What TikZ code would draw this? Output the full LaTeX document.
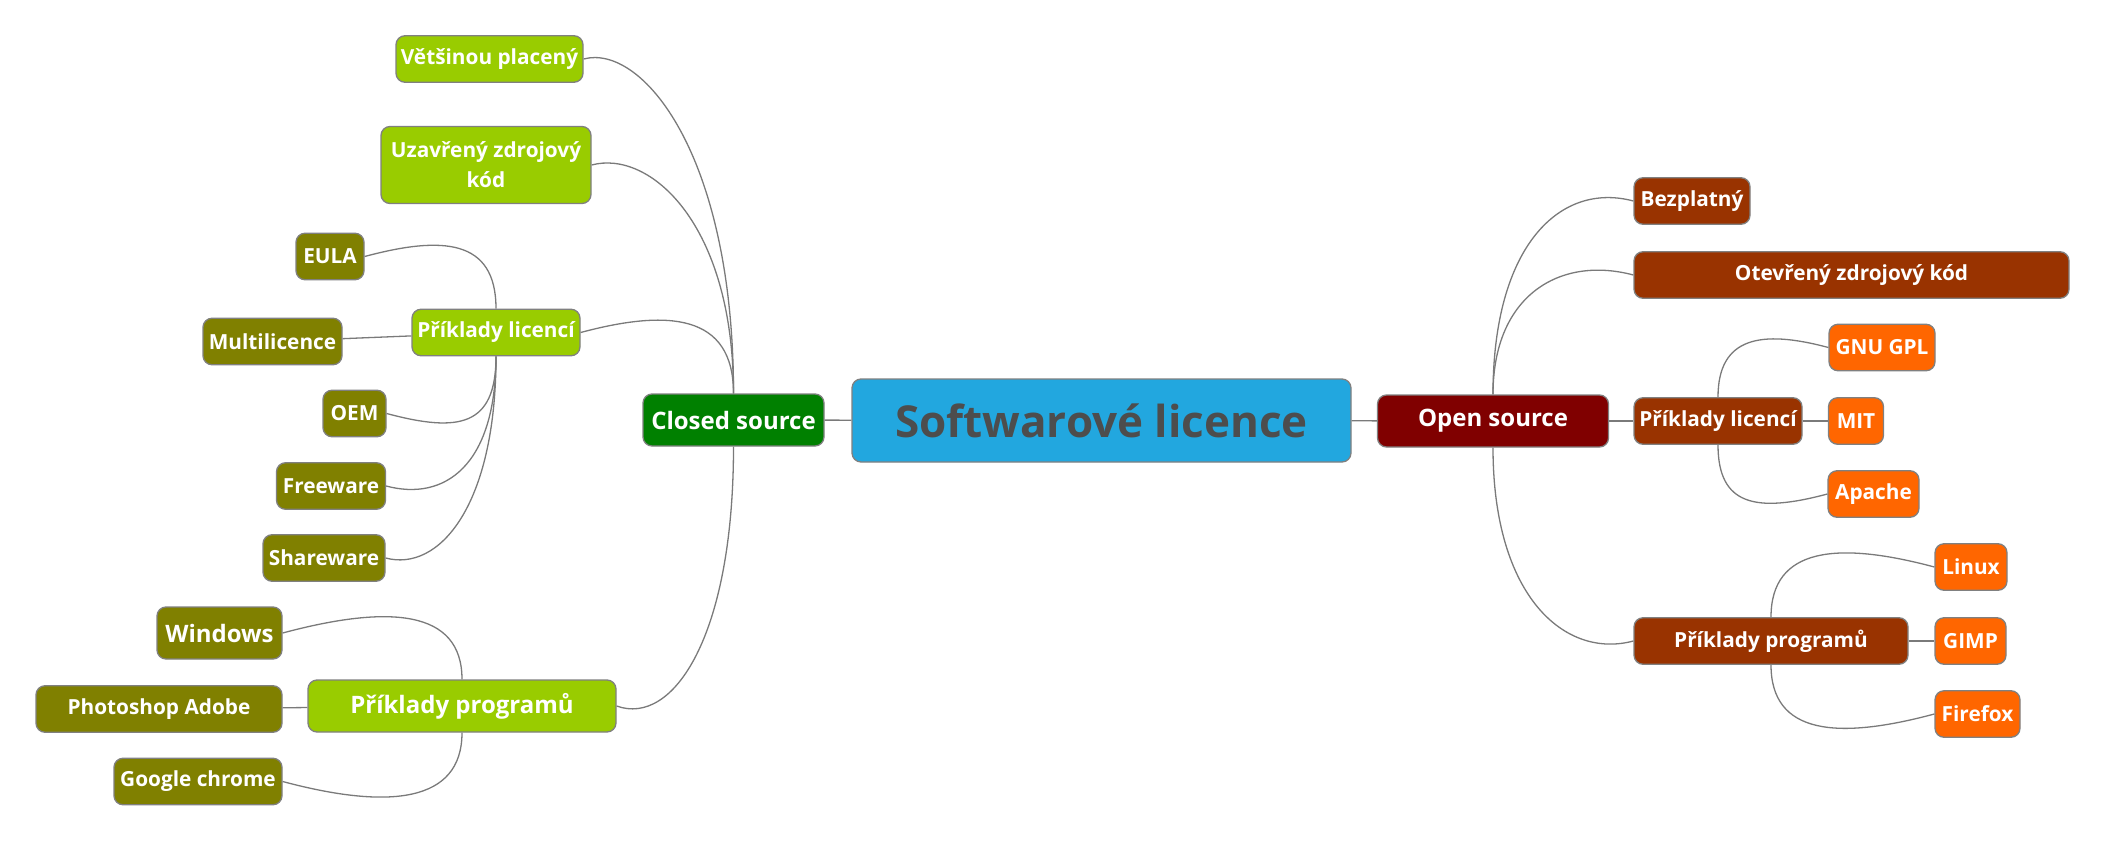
\documentclass[tikz,border=0pt]{standalone}
\usepackage{fontspec}
\setmainfont{Open Sans}
\usepackage{tikz}

\definecolor{rootblue}{HTML}{22A7DF}
\definecolor{rootgray}{HTML}{4D4D4D}
\definecolor{closedgreen}{HTML}{008000}
\definecolor{openred}{HTML}{800000}
\definecolor{limegreen}{HTML}{99CC00}
\definecolor{olivebox}{HTML}{808000}
\definecolor{rustbox}{HTML}{993300}
\definecolor{orangebox}{HTML}{FF6600}
\definecolor{framegray}{HTML}{808080}
\definecolor{linkgray}{HTML}{7A7A7A}

\begin{document}
\begin{tikzpicture}[x=1pt,y=1pt]
\tikzstyle{every node}+=[inner sep=0pt]
\tikzstyle{topic}=[draw=framegray, line width=1.3pt, rounded corners=9pt, text=white, font=\bfseries\fontsize{20.8}{30}\selectfont, minimum height=46.5pt, align=center]
\tikzstyle{rootnode}=[topic, fill=rootblue, text=rootgray, font=\bfseries\fontsize{44}{50}\selectfont, minimum height=83pt]
\tikzstyle{bigfont}=[font=\bfseries\fontsize{24}{30}\selectfont, minimum height=52pt]
\tikzstyle{closedmain}=[topic, bigfont, fill=closedgreen]
\tikzstyle{openmain}=[topic, bigfont, fill=openred]
\tikzstyle{subL}=[topic, fill=limegreen]
\tikzstyle{leafL}=[topic, fill=olivebox]
\tikzstyle{subR}=[topic, fill=rustbox]
\tikzstyle{leafR}=[topic, fill=orangebox]
\tikzstyle{link}=[draw=linkgray, line width=1.3pt]
\useasboundingbox (0,0) rectangle (2107,-843);
% root and main branches
\node [rootnode, minimum width=499pt] (root) at (1101.5,-420.5) {Softwarové licence};
\node [closedmain, minimum width=181pt] (cs) at (733.5,-420) {Closed source};
\node [openmain, minimum width=231pt] (os) at (1493,-421) {Open source};
% closed source side
\node [subL, minimum width=187pt] (vp) at (489.5,-59) {Většinou placený};
\node [subL, minimum width=210pt, minimum height=77pt] (uz) at (486,-165) {Uzavřený zdrojový\\kód};
\node [subL, minimum width=168pt] (plL) at (496,-332.5) {Příklady licencí};
\node [subL, bigfont, minimum width=308pt] (ppL) at (462,-706) {Příklady programů};
\node [leafL, minimum width=68pt] (eula) at (330,-256.5) {EULA};
\node [leafL, minimum width=139pt] (multi) at (272.5,-341.5) {Multilicence};
\node [leafL, minimum width=63pt] (oem) at (354.5,-413.5) {OEM};
\node [leafL, minimum width=109pt] (free) at (331,-486) {Freeware};
\node [leafL, minimum width=122pt] (share) at (324,-558) {Shareware};
\node [leafL, bigfont, minimum width=125pt] (win) at (219.5,-633) {Windows};
\node [leafL, minimum width=246pt] (photo) at (159,-709) {Photoshop Adobe};
\node [leafL, minimum width=168pt] (chrome) at (198,-781.5) {Google chrome};
% open source side
\node [subR, minimum width=116pt] (bez) at (1692,-201) {Bezplatný};
\node [subR, minimum width=435pt] (otev) at (1851.5,-275) {Otevřený zdrojový kód};
\node [subR, minimum width=168pt] (plR) at (1718,-421) {Příklady licencí};
\node [subR, minimum width=274pt] (ppR) at (1771,-641) {Příklady programů};
\node [leafR, minimum width=106pt] (gnu) at (1882,-347.5) {GNU GPL};
\node [leafR, minimum width=55pt] (mit) at (1856,-421) {MIT};
\node [leafR, minimum width=91pt] (apache) at (1873.5,-494) {Apache};
\node [leafR, minimum width=72pt] (linux) at (1971,-567) {Linux};
\node [leafR, minimum width=71pt] (gimp) at (1970.5,-641) {GIMP};
\node [leafR, minimum width=85pt] (firefox) at (1977.5,-714) {Firefox};
% links
\draw [link] (root) -- (cs);
\draw [link] (root) -- (os);
\draw [link] (cs.north) to [out=90,in=15,out distance=240pt,in distance=60pt] (vp.east);
\draw [link] (cs.north) to [out=90,in=15,out distance=170pt,in distance=60pt] (uz.east);
\draw [link] (cs.north) to [out=90,in=15,out distance=80pt,in distance=90pt] (plL.east);
\draw [link] (cs.south) to [out=-90,in=-20,out distance=190pt,in distance=60pt] (ppL.east);
\draw [link] (plL.north) to [out=90,in=15,out distance=70pt,in distance=80pt] (eula.east);
\draw [link] (plL) -- (multi);
\draw [link] (plL.south) to [out=-90,in=-15,out distance=70pt,in distance=75pt] (oem.east);
\draw [link] (plL.south) to [out=-90,in=-15,out distance=110pt,in distance=60pt] (free.east);
\draw [link] (plL.south) to [out=-90,in=-15,out distance=150pt,in distance=55pt] (share.east);
\draw [link] (ppL.north) to [out=90,in=15,out distance=70pt,in distance=110pt] (win.east);
\draw [link] (ppL) -- (photo);
\draw [link] (ppL.south) to [out=-90,in=-15,out distance=70pt,in distance=110pt] (chrome.east);
\draw [link] (os.north) to [out=90,in=165,out distance=150pt,in distance=75pt] (bez.west);
\draw [link] (os.north) to [out=90,in=165,out distance=100pt,in distance=75pt] (otev.west);
\draw [link] (os) -- (plR);
\draw [link] (os.south) to [out=-90,in=195,out distance=150pt,in distance=70pt] (ppR.west);
\draw [link] (plR.north) to [out=90,in=165,out distance=60pt,in distance=70pt] (gnu.west);
\draw [link] (plR) -- (mit);
\draw [link] (plR.south) to [out=-90,in=195,out distance=60pt,in distance=75pt] (apache.west);
\draw [link] (ppR.north) to [out=90,in=165,out distance=70pt,in distance=100pt] (linux.west);
\draw [link] (ppR) -- (gimp);
\draw [link] (ppR.south) to [out=-90,in=195,out distance=70pt,in distance=100pt] (firefox.west);
\end{tikzpicture}
\end{document}
